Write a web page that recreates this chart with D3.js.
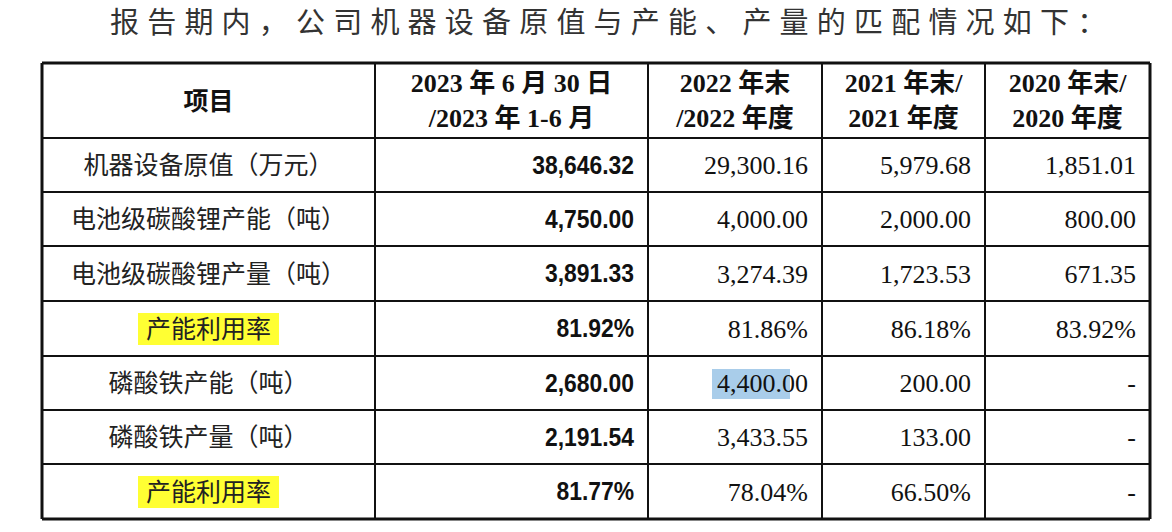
<!DOCTYPE html>
<html><head><meta charset="utf-8">
<script src="https://cdn.jsdelivr.net/npm/d3@7"></script>
<style>body{margin:0;background:#fff}</style></head>
<body><svg id="c" width="1172" height="532"></svg>
<script>
const title = "报告期内，公司机器设备原值与产能、产量的匹配情况如下：";
const headers = [["项目"],["2023 年 6 月 30 日","/2023 年 1-6 月"],["2022 年末","/2022 年度"],["2021 年末/","2021 年度"],["2020 年末/","2020 年度"]];
const items = ["机器设备原值（万元）","电池级碳酸锂产能（吨）","电池级碳酸锂产量（吨）","产能利用率","磷酸铁产能（吨）","磷酸铁产量（吨）","产能利用率"];
const col2023 = ["38,646.32","4,750.00","3,891.33","81.92%","2,680.00","2,191.54","81.77%"];
const col2022 = ["29,300.16","4,000.00","3,274.39","81.86%","4,400.00","3,433.55","78.04%"];
const col2021 = ["5,979.68","2,000.00","1,723.53","86.18%","200.00","133.00","66.50%"];
const col2020 = ["1,851.01","800.00","671.35","83.92%","-","-","-"];
const highlighted = [3,6];

const svg = d3.select("#c");
const colEdges = [42,375,648,822,985,1150];
const rowEdges = [63,138,192,246,301,356,410,464,519];
const x = d3.scaleOrdinal().domain(d3.range(6)).range(colEdges);
const y = d3.scaleOrdinal().domain(d3.range(9)).range(rowEdges);
const cjk = "'Noto Sans CJK SC'";

svg.append("text").attr("x",110).attr("y",33).attr("font-family",cjk).attr("font-size",29).attr("letter-spacing",8.2).attr("fill","#333").text(title);

items.forEach((t,i)=>{
  if(!highlighted.includes(i)) return;
  const cx=(x(0)+x(1))/2, w=t.length*27+6;
  svg.append("rect").attr("x",cx-w/2).attr("y",y(i+1)+12).attr("width",w).attr("height",32).attr("fill","#ffff33");
});
svg.append("rect").attr("x",712).attr("y",y(5)+13).attr("width",78).attr("height",30).attr("fill","#a9cdea");

const g=svg.append("g").attr("stroke","#111");
rowEdges.forEach((r,i)=>g.append("line").attr("x1",colEdges[0]).attr("x2",colEdges[5]).attr("y1",r).attr("y2",r).attr("stroke-width",(i==0||i==8)?3:2));
colEdges.forEach((c,i)=>g.append("line").attr("x1",c).attr("x2",c).attr("y1",rowEdges[0]).attr("y2",rowEdges[8]).attr("stroke-width",(i==0||i==5)?3:2));

headers.forEach((h,j)=>{
  const cx=(x(j)+x(j+1))/2, cy=(y(0)+y(1))/2;
  h.forEach((line,k)=>{
    svg.append("text").attr("x",cx).attr("y",cy+(k-(h.length-1)/2)*35+9).attr("text-anchor","middle")
      .attr("font-family",j==0?cjk:"'Liberation Serif',"+cjk).attr("font-weight","bold").attr("font-size",j==0?25:26).attr("fill","#111").text(line);
  });
});
const cols=[col2023,col2022,col2021,col2020];
items.forEach((t,i)=>{
  const cy=(y(i+1)+y(i+2))/2+9;
  svg.append("text").attr("x",(x(0)+x(1))/2).attr("y",cy).attr("text-anchor","middle").attr("font-family",cjk).attr("font-size",25).attr("fill","#222").text(t);
  cols.forEach((col,j)=>{
    const right=x(j+2)-14;
    const tx=svg.append("text").attr("x",right).attr("y",cy).attr("text-anchor","end")
      .attr("font-family",j==0?"'Liberation Sans Narrow','Liberation Sans'":"'Liberation Serif'")
      .attr("font-weight",j==0?"bold":"normal").attr("font-size",26).attr("fill","#111").text(col[i]);
    if(j==0) tx.attr("transform",`translate(${right},0) scale(0.88,1) translate(${-right},0)`);
  });
});
</script></body></html>
